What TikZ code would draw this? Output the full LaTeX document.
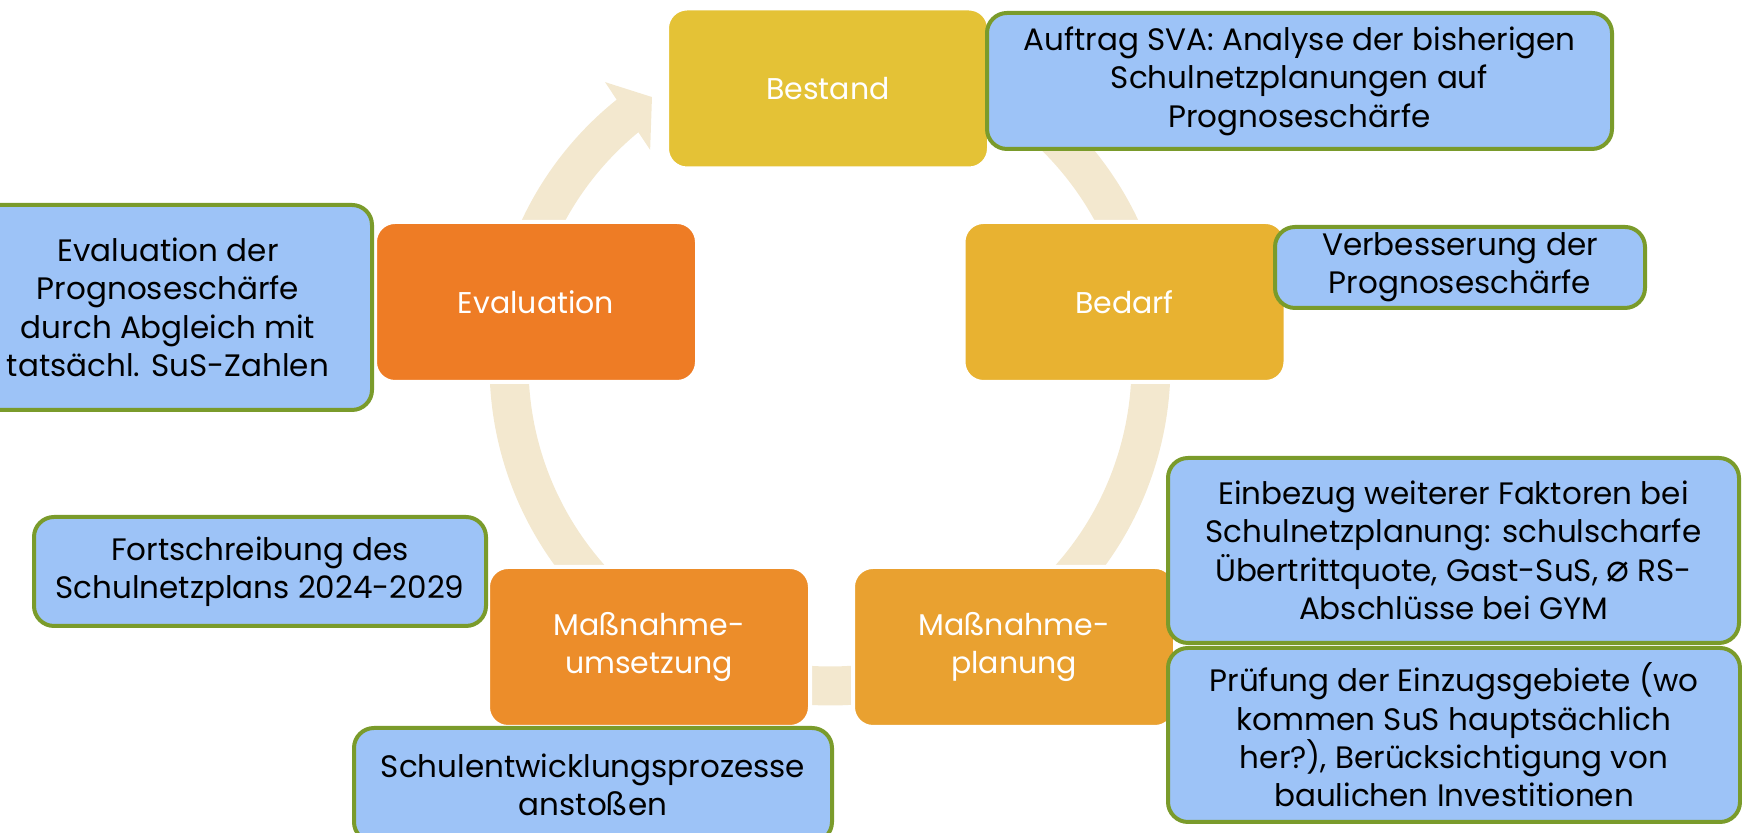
\documentclass[tikz,border=0pt]{standalone}
\usepackage{fontspec}
\setmainfont{Poppins}
\newfontfamily\symfont{DejaVu Sans}

\definecolor{ringcol}{HTML}{F3E8CF}
\definecolor{bestandcol}{HTML}{E4C236}
\definecolor{bedarfcol}{HTML}{E8B231}
\definecolor{planungcol}{HTML}{E9A130}
\definecolor{umsetzcol}{HTML}{EC8D2A}
\definecolor{evalcol}{HTML}{EE7C25}
\definecolor{noteblue}{HTML}{9DC3F7}
\definecolor{notegreen}{HTML}{7A9B2B}

\tikzset{
  phase/.style={rounded corners=10pt, draw=white, line width=2pt, text=white,
    align=center, inner sep=0pt, minimum width=161pt, minimum height=80pt,
    font=\fontsize{15}{19}\selectfont},
  note/.style={rounded corners=10pt, fill=noteblue, draw=notegreen, line width=2pt,
    text=black, align=center, inner sep=0pt, font=\fontsize{15.5}{19.2}\selectfont},
}

\begin{document}
\begin{tikzpicture}[x=0.5pt, y=0.5pt]

  \useasboundingbox (0,0) rectangle (1742,833);

  % ring with arrow
  \begin{scope}[shift={(830,468)}]
    \draw[ringcol, line width=19.5pt] (128.5:321) arc[start angle=128.5, end angle=450, radius=160.5pt];
    \fill[ringcol] (128.5:361.5) -- (123.6:321.7) -- (129.9:280.4) -- cycle;
  \end{scope}

  % phases
  \node[phase, fill=bestandcol] (bestand) at (828,744.5) {Bestand};
  \node[phase, fill=bedarfcol] (bedarf) at (1124.5,531) {Bedarf};
  \node[phase, fill=planungcol] (planung) at (1014,186) {Maßnahme-\\planung};
  \node[phase, fill=umsetzcol] (umsetzung) at (649,186) {Maßnahme-\\umsetzung};
  \node[phase, fill=evalcol] (evaluation) at (536,531) {Evaluation};

  % notes
  \node[note, minimum width=312.5pt, minimum height=68pt] (auftrag) at (1299.5,752)
    {Auftrag SVA: Analyse der bisherigen\\Schulnetzplanungen auf\\Prognoseschärfe};
  \node[note, minimum width=185pt, minimum height=40.5pt] (verbesserung) at (1460,565.5)
    {Verbesserung der\\Prognoseschärfe};
  \node[note, minimum width=204pt, minimum height=102.5pt] (evalnote) at (168,525.5)
    {Evaluation der\\Prognoseschärfe\\durch Abgleich mit\\tatsächl. SuS-Zahlen};
  \node[note, minimum width=226pt, minimum height=54.5pt] (fortschreibung) at (260,261.5)
    {Fortschreibung des\\Schulnetzplans 2024-2029};
  \node[note, minimum width=239pt, minimum height=57pt] (schulentw) at (593,48)
    {Schulentwicklungsprozesse\\anstoßen};
  \node[note, minimum width=285.5pt, minimum height=92.5pt] (einbezug) at (1453.5,282.5)
    {Einbezug weiterer Faktoren bei\\Schulnetzplanung: schulscharfe\\Übertrittquote, Gast-SuS, {\symfont\fontsize{19}{19}\selectfont ⌀} RS-\\Abschlüsse bei GYM};
  \node[note, minimum width=286pt, minimum height=87pt] (pruefung) at (1454,98)
    {Prüfung der Einzugsgebiete (wo\\kommen SuS hauptsächlich\\her?), Berücksichtigung von\\baulichen Investitionen};

\end{tikzpicture}
\end{document}
